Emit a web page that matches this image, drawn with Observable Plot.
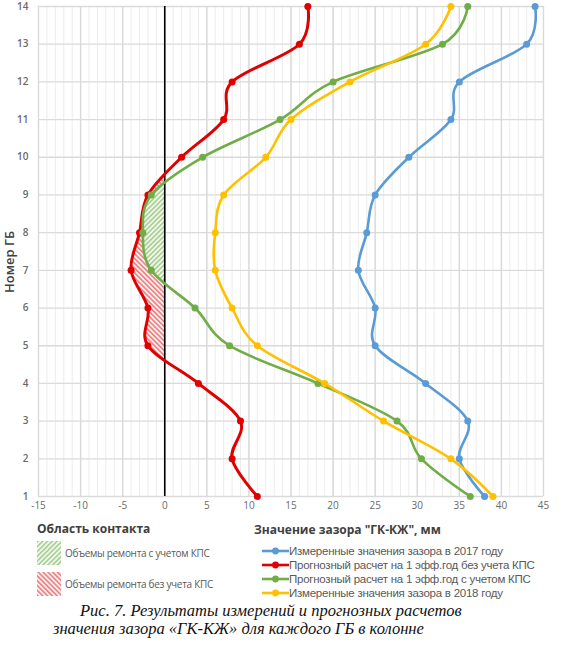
<!DOCTYPE html>
<html>
<head>
<meta charset="utf-8">
<script src="https://cdn.jsdelivr.net/npm/d3@7"></script>
<script src="https://cdn.jsdelivr.net/npm/@observablehq/plot@0.6"></script>
<style>
  html, body { margin: 0; padding: 0; background: #fff; }
  body { width: 587px; height: 645px; position: relative; overflow: hidden; font-family: "Open Sans", sans-serif; }
  #chart { position: absolute; left: 0; top: 0; }
  .abs { position: absolute; white-space: nowrap; }
  .legTitle { font-family: "Open Sans", sans-serif; font-weight: 700; font-size: 12px; color: #404040; line-height: 16px; }
  .legText { font-family: "Liberation Sans", Arial, sans-serif; font-size: 11.5px; color: #595959; line-height: 14px; letter-spacing: -0.25px; }
  .cap { font-family: "Liberation Serif", "Times New Roman", serif; font-style: italic; font-size: 16.5px; color: #111; line-height: 18px; }
</style>
</head>
<body>
<div id="chart"></div>
<div id="legend"></div>
<script>
// ---- data ----
const blocks = [1, 2, 3, 4, 5, 6, 7, 8, 9, 10, 11, 12, 13, 14];
const gap2017 = [38, 35, 36, 31, 25, 25, 23, 24, 25, 29, 34, 35, 43, 44];
const forecastNoKPS = [11, 8, 9, 4, -2, -2, -4, -3, -2, 2, 7, 8, 16, 17];
const forecastKPS = [36.3, 30.5, 27.6, 18.2, 7.7, 3.6, -1.6, -2.6, -1.6, 4.5, 13.7, 20, 33, 36];
const gap2018 = [39, 34, 26, 19, 11, 8, 6, 6, 7, 12, 15, 22, 31, 34];

const xTicks = [-15, -10, -5, 0, 5, 10, 15, 20, 25, 30, 35, 40, 45];
const xMinorTicks = d3.range(-15, 46, 1);

const seriesNames = [
  "Измеренные значения зазора в 2017 году",
  "Прогнозный расчет на 1 эфф.год без учета КПС",
  "Прогнозный расчет на 1 эфф.год с учетом КПС",
  "Измеренные значения зазора в 2018 году"
];
const seriesColors = ["#5B9BD5", "#E00000", "#70AD47", "#FFC000"];

const legendTitleLeft = "Область контакта";
const legendTitleRight = "Значение зазора \"ГК-КЖ\", мм";
const areaNames = ["Объемы ремонта с учетом КПС", "Объемы ремонта без учета КПС"];
const yLabel = "Номер ГБ";
const captionLines = [
  "Рис. 7. Результаты измерений и прогнозных расчетов",
  "значения зазора «ГК-КЖ» для каждого ГБ в колонне"
];

// table built from arrays
const rows = blocks.map((b, i) => ({
  block: b, g2017: gap2017[i], noKPS: forecastNoKPS[i], kps: forecastKPS[i], g2018: gap2018[i], zero: 0
}));
const keys = ["g2017", "noKPS", "kps", "g2018"];

const W = 587, H = 515;
const mL = 38, mR = 44, mT = 6, mB = 19;
const xDomain = [-15, 45];

const lineMarks = [];
keys.forEach((k, i) => {
  lineMarks.push(Plot.line(rows, {x: k, y: "block", stroke: seriesColors[i], strokeWidth: i === 1 ? 3 : 2.6, curve: "cardinal"}));
  lineMarks.push(Plot.dot(rows, {x: k, y: "block", fill: seriesColors[i], r: 3.5}));
});

const chart = Plot.plot({
  width: W, height: H,
  marginLeft: mL, marginRight: mR, marginTop: mT, marginBottom: mB,
  style: {fontFamily: "Open Sans, sans-serif", fontSize: "10px", color: "#6a6a6a", background: "#fff"},
  x: {domain: xDomain, label: null},
  y: {domain: [1, 14], label: null},
  marks: [
    Plot.ruleX(xMinorTicks, {stroke: "#ececec", strokeWidth: 1}),
    Plot.ruleX(xTicks, {stroke: "#d9d9d9", strokeWidth: 1.4}),
    Plot.ruleY(blocks, {stroke: "#dadada", strokeWidth: 1.3}),
    Plot.areaX(rows, {y: "block", x1: "kps", x2: "zero", curve: "cardinal", fill: "#70AD47"}),
    Plot.areaX(rows, {y: "block", x1: "noKPS", x2: "kps", curve: "cardinal", fill: "#E00000"}),
    Plot.ruleX([0], {stroke: "#000", strokeWidth: 1.6}),
    ...lineMarks,
    Plot.axisX({ticks: xTicks, tickSize: 0, tickPadding: 5, tickFormat: d => String(d), label: null}),
    Plot.axisY({ticks: blocks, tickSize: 0, tickPadding: 10, label: null, fontWeight: 600})
  ]
});
document.getElementById("chart").appendChild(chart);

// patterns & clip (x < 0 region)
const svg = d3.select(chart);
const defs = svg.insert("defs", ":first-child");
function addPattern(sel, id, color, bg, angle) {
  const p = sel.append("pattern").attr("id", id).attr("patternUnits", "userSpaceOnUse")
    .attr("width", 3.4).attr("height", 3.4).attr("patternTransform", `rotate(${angle})`);
  p.append("rect").attr("width", 3.4).attr("height", 3.4).attr("fill", bg);
  p.append("line").attr("x1", 0.8).attr("y1", 0).attr("x2", 0.8).attr("y2", 3.4)
    .attr("stroke", color).attr("stroke-width", 1.1);
}
const hatchGreenStyle = ["#86bb66", "#f1f7ed", 45];
const hatchRedStyle = ["#ea4a4c", "#fcefef", -45];
addPattern(defs, "hatchGreen", ...hatchGreenStyle);
addPattern(defs, "hatchRed", ...hatchRedStyle);
const xLin = d3.scaleLinear().domain(xDomain).range([mL, W - mR]);
const x0 = xLin(0);
defs.append("clipPath").attr("id", "clipNeg").append("rect")
  .attr("x", mL).attr("y", mT).attr("width", x0 - mL).attr("height", H - mT - mB);
const areaGroups = svg.selectAll('g[aria-label="area"]').nodes();
const hatchIds = ["hatchGreen", "hatchRed"];
areaGroups.forEach((g, i) => {
  const sel = d3.select(g);
  sel.attr("clip-path", "url(#clipNeg)").attr("fill", `url(#${hatchIds[i]})`);
  sel.selectAll("path").attr("fill", `url(#${hatchIds[i]})`);
});

// y-axis title
svg.append("text").attr("x", 0).attr("y", 0)
  .attr("transform", "translate(14,262) rotate(-90)")
  .attr("text-anchor", "middle")
  .attr("font-family", "Open Sans, sans-serif").attr("font-size", 13).attr("font-weight", 600)
  .attr("fill", "#404040").text(yLabel);

// ---- legends & caption (HTML) ----
const leg = d3.select("#legend");
leg.append("div").attr("class", "abs legTitle").style("left", "37px").style("top", "521px").text(legendTitleLeft);
const swatchTops = [541, 572];
const swatchPat = [hatchGreenStyle, hatchRedStyle];
areaNames.forEach((name, i) => {
  const s = leg.append("svg").attr("class", "abs").style("left", "37px").style("top", swatchTops[i] + "px")
    .attr("width", 24).attr("height", 24);
  const d = s.append("defs");
  addPattern(d, "legPat" + i, ...swatchPat[i]);
  s.append("rect").attr("width", 24).attr("height", 24).attr("fill", `url(#legPat${i})`);
  leg.append("div").attr("class", "abs legText").style("left", "65px").style("top", (swatchTops[i] + 5) + "px")
    .style("font-family", "Open Sans, sans-serif").style("font-size", "10px").style("letter-spacing", "-0.3px")
    .text(name);
});

leg.append("div").attr("class", "abs legTitle").style("left", "254px").style("top", "522px").text(legendTitleRight);
seriesNames.forEach((name, i) => {
  const top = 544 + i * 14;
  const s = leg.append("svg").attr("class", "abs").style("left", "262px").style("top", top + "px")
    .attr("width", 27).attr("height", 14);
  s.append("line").attr("x1", 0).attr("x2", 27).attr("y1", 7).attr("y2", 7).attr("stroke", seriesColors[i]).attr("stroke-width", 2.6);
  s.append("circle").attr("cx", 13.5).attr("cy", 7).attr("r", 3.4).attr("fill", seriesColors[i]);
  leg.append("div").attr("class", "abs legText").style("left", "289px").style("top", top + "px").text(name);
});

leg.append("div").attr("class", "abs cap").style("left", "80px").style("top", "602px").text(captionLines[0]);
leg.append("div").attr("class", "abs cap").style("left", "53px").style("top", "620px").text(captionLines[1]);
</script>
</body>
</html>
